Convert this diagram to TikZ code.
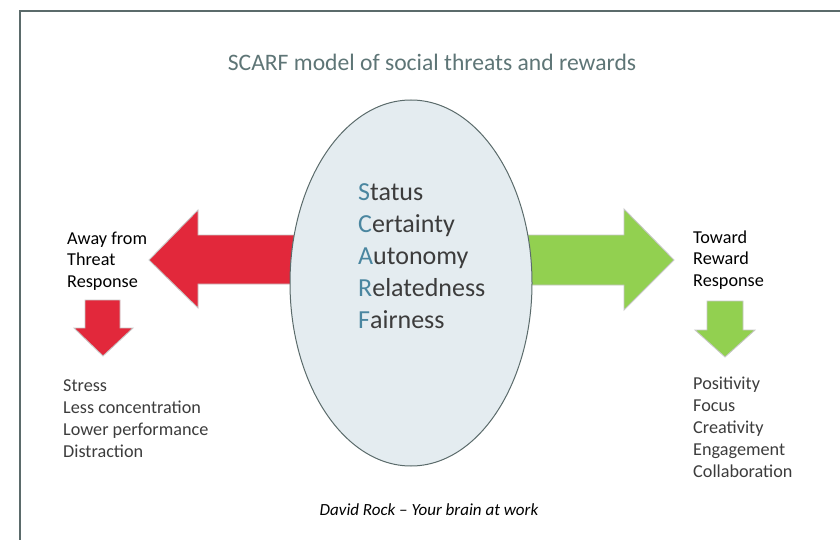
\documentclass[tikz,border=0pt]{standalone}
\usepackage{fontspec}
\setmainfont{Carlito}
\usepackage{xcolor}
\usetikzlibrary{positioning,shapes.geometric}
\definecolor{frameink}{HTML}{5B6B6B}
\definecolor{titleink}{HTML}{5E7576}
\definecolor{letterink}{HTML}{4A86A0}
\definecolor{bodyink}{HTML}{3C3C3C}
\definecolor{threat}{HTML}{E2283B}
\definecolor{reward}{HTML}{92D050}
\definecolor{brainfill}{HTML}{E4ECF0}
\tikzset{
  blockarrow/.style={draw=black!22,line width=0.9pt,line join=miter},
  headline/.style  ={font=\fontsize{23.6}{28}\selectfont,text=titleink,inner sep=0pt,anchor=base},
  scarflist/.style ={font=\fontsize{26}{32}\selectfont,text=bodyink,align=left,inner sep=0pt,anchor=base west},
  response/.style  ={font=\fontsize{18.2}{21.5}\selectfont,text=black,align=left,inner sep=0pt,anchor=base west},
  effects/.style   ={font=\fontsize{18.2}{21.8}\selectfont,text=bodyink,align=left,inner sep=0pt,anchor=base west}
}
\newcommand{\initial}[1]{\textcolor{letterink}{#1}}

\begin{document}
\begin{tikzpicture}[x=1pt,y=-1pt]
    \useasboundingbox (0,0) rectangle (840,540);
    % frame, only its top and left edges fall inside the page
    \draw[frameink,line width=2pt] (20,560) |- (860,11);

    \node[headline] (title) at (432,71) {SCARF model of social threats and rewards};

    % big arrows, drawn first so the ellipse covers their shafts
    \fill[threat] (330,235) -- (198,235) -- (198,210) -- (149,260)
                  -- (198,308) -- (198,284) -- (330,284) -- cycle;
    \draw[blockarrow] (330,235) -- (198,235) -- (198,210) -- (149,260)
                  -- (198,308) -- (198,284) -- (330,284);
    \fill[reward] (490,235) -- (624,235) -- (624,209) -- (674,260)
                  -- (624,310) -- (624,285) -- (490,285) -- cycle;
    \draw[blockarrow] (490,235) -- (624,235) -- (624,209) -- (674,260)
                  -- (624,310) -- (624,285) -- (490,285);

    \node[ellipse,draw=frameink,line width=1pt,fill=brainfill,
          minimum width=242pt,minimum height=366pt] (brain) at (411,283) {};
    % multi-line nodes sit on the baseline of their last line
    \node[scarflist] (scarf) at (358,328)
        {\initial{S}tatus\\\initial{C}ertainty\\\initial{A}utonomy\\\initial{R}elatedness\\\initial{F}airness};

    % threat side
    \node[response] (away) at (67,287) {Away from\\Threat\\Response};
    \draw[blockarrow,fill=threat] (85,300) -- (120,300) -- (120,328) -- (133,328)
                  -- (103,356) -- (74,328) -- (85,328) -- cycle;
    \node[effects] (stress) at (63,457) {Stress\\Less concentration\\Lower performance\\Distraction};

    % reward side
    \node[response] (toward) at (693,286) {Toward\\Reward\\Response};
    \draw[blockarrow,fill=reward] (707,301) -- (743,301) -- (743,330) -- (755,330)
                  -- (725,357) -- (695,330) -- (707,330) -- cycle;
    \node[effects] (positive) at (693,477) {Positivity\\Focus\\Creativity\\Engagement\\Collaboration};

    \node[font=\fontsize{17}{20}\selectfont\itshape,inner sep=0pt,anchor=base] (source) at (429,515)
        {David Rock -- Your brain at work};
  \end{tikzpicture}
\end{document}
